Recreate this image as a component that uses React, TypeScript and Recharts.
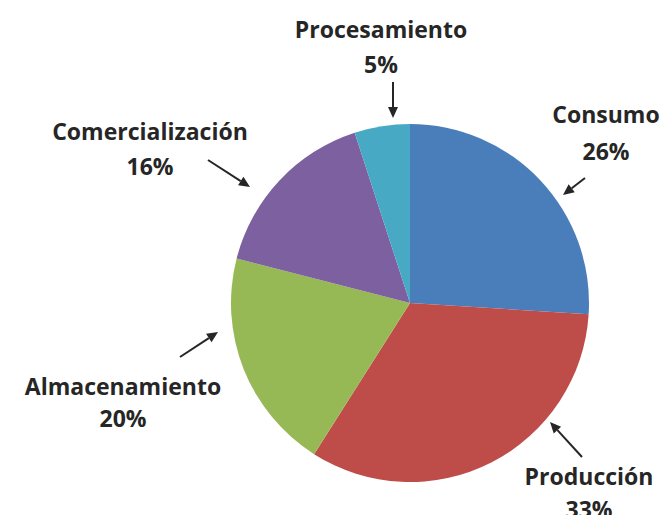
import React from "react";
import { PieChart, Pie, Cell } from "recharts";

const categories = ["Consumo", "Producción", "Almacenamiento", "Comercialización", "Procesamiento"];
const shares = [26, 33, 20, 16, 5];
const colors = ["#4A7EBB", "#BE4D4A", "#97B955", "#7D60A0", "#47A9C4"];

const data = categories.map((name, i) => ({ name, value: shares[i] }));

// label placement relative to the pie centre: text x, two baselines, arrow tail and tip
const labelLayout = [
  { tx: 196, y1: -180, y2: -143, tail: [175, -125], tip: [153, -108] },
  { tx: 179, y1: 182, y2: 215, tail: [172, 154], tip: [140, 119] },
  { tx: -287, y1: 92, y2: 124, tail: [-230, 54], tip: [-192, 29] },
  { tx: -260, y1: -163, y2: -128, tail: [-202, -143], tip: [-160, -116] },
  { tx: -29, y1: -265, y2: -230, tail: [-17, -221], tip: [-17, -185] },
];

const FONT = "'Open Sans', Lato, sans-serif";
const INK = "#262626";

function renderLabel(props: any) {
  const { cx, cy, index, name, value } = props;
  const l = labelLayout[index];
  const x1 = cx + l.tail[0];
  const y1 = cy + l.tail[1];
  const x2 = cx + l.tip[0];
  const y2 = cy + l.tip[1];
  const ang = Math.atan2(y2 - y1, x2 - x1);
  const len = 11;
  const w = 5;
  const bx = x2 - len * Math.cos(ang);
  const by = y2 - len * Math.sin(ang);
  const head = [
    [x2, y2],
    [bx + w * Math.sin(ang), by - w * Math.cos(ang)],
    [bx - w * Math.sin(ang), by + w * Math.cos(ang)],
  ]
    .map((p) => p.join(","))
    .join(" ");
  return (
    <g key={`lbl-${index}`}>
      <line x1={x1} y1={y1} x2={bx} y2={by} stroke={INK} strokeWidth={2} />
      <polygon points={head} fill={INK} />
      <text
        x={cx + l.tx}
        y={cy + l.y1}
        textAnchor="middle"
        fontFamily={FONT}
        fontWeight={700}
        fontSize={23}
        fill={INK}
      >
        {name}
      </text>
      <text
        x={cx + l.tx}
        y={cy + l.y2}
        textAnchor="middle"
        fontFamily={FONT}
        fontWeight={700}
        fontSize={23}
        fill={INK}
      >
        {`${value}%`}
      </text>
    </g>
  );
}

export default function App() {
  return (
    <div style={{ position: "absolute", left: 0, top: 0, background: "#fff" }}>
      <PieChart width={661} height={515}>
        <Pie
          data={data}
          dataKey="value"
          nameKey="name"
          cx={405}
          cy={298}
          outerRadius={179}
          startAngle={90}
          endAngle={-270}
          stroke="none"
          label={renderLabel}
          labelLine={false}
          isAnimationActive={false}
        >
          {data.map((d, i) => (
            <Cell key={d.name} fill={colors[i]} />
          ))}
        </Pie>
      </PieChart>
    </div>
  );
}
